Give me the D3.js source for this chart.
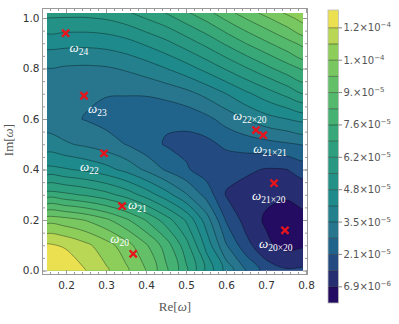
<!DOCTYPE html>
<meta charset="utf-8">
<script src="https://d3js.org/d3.v7.min.js"></script>
<style>
  body { margin: 0; background: #fff; }
  text { font-family: "DejaVu Sans", sans-serif; }
</style>
<div id="my_dataviz"></div>
<script>
var reSamples = [0.15, 0.20, 0.25, 0.30, 0.35, 0.40, 0.45, 0.50, 0.55, 0.60, 0.65, 0.70, 0.75, 0.80];
var imSamples = [0.0, 0.1, 0.2, 0.3, 0.4, 0.5, 0.6, 0.7, 0.8, 0.9, 1.0, 1.1];

// values in units of 1e-5, one row per Im sample (bottom row first)
var field = [
  [12.5, 12.15, 11.65, 11.07, 10.41, 9.59, 8.36, 7.02, 5.35, 3.88, 2.74, 1.75, 1.45, 1.5],
  [11.75, 11.55, 11.12, 10.57, 9.9, 9.0, 7.9, 6.45, 4.6, 2.8, 1.6, 0.85, 0.45, 0.55],
  [9.98, 9.85, 9.55, 9.05, 8.35, 7.5, 6.5, 5.4, 3.8, 2.0, 1.1, 0.58, 0.25, 0.5],
  [7.14, 7.0, 6.75, 6.4, 5.9, 5.2, 4.4, 3.5, 2.5, 1.33, 1.05, 0.85, 0.8, 0.95],
  [4.97, 4.85, 4.65, 4.35, 3.9, 3.3, 2.65, 2.15, 1.7, 1.55, 1.5, 1.32, 1.35, 1.65],
  [3.69, 3.5, 3.3, 3.05, 2.72, 2.3, 2.0, 1.85, 1.85, 2.2, 2.35, 2.5, 2.65, 2.8],
  [3.1, 2.9, 2.7, 2.5, 2.32, 2.2, 2.15, 2.25, 2.55, 3.0, 3.45, 3.85, 4.1, 4.3],
  [3.05, 2.95, 2.85, 2.78, 2.78, 2.8, 2.95, 3.2, 3.6, 4.1, 4.65, 5.15, 5.65, 6.15],
  [3.38, 3.33, 3.3, 3.35, 3.5, 3.75, 4.1, 4.5, 5.0, 5.55, 6.1, 6.65, 7.2, 7.7],
  [4.34, 4.3, 4.28, 4.35, 4.55, 4.9, 5.3, 5.8, 6.35, 6.95, 7.55, 8.1, 8.65, 9.15],
  [5.48, 5.45, 5.45, 5.55, 5.8, 6.2, 6.6, 7.15, 7.7, 8.35, 8.95, 9.5, 10.05, 10.6],
  [6.8, 6.75, 6.75, 6.85, 7.1, 7.5, 7.95, 8.5, 9.1, 9.75, 10.4, 11.0, 11.55, 12.1]
];

// contour levels (1e-5) and legend range
var levels = [0.685, 1.37, 2.055, 2.74, 3.425, 4.11, 4.795, 5.48, 6.165, 6.85, 7.535, 8.22, 8.905, 9.59, 10.275, 10.96, 11.645];
var legendRange = [0, 12.4];
var legendAt = [11.645, 10.275, 8.905, 7.535, 6.165, 4.795, 3.425, 2.055, 0.685];
var legendMant = ["1.2", "1.", "9.", "7.6", "6.2", "4.8", "3.5", "2.1", "6.9"];
var legendExp = ["-4", "-4", "-5", "-5", "-5", "-5", "-5", "-5", "-6"];

// marked modes
var modeSub = ["24", "23", "22", "21", "20", "22×20", "21×21", "21×20", "20×20"];
var modeRe = [0.199, 0.245, 0.295, 0.34, 0.368, 0.675, 0.693, 0.72, 0.7475];
var modeIm = [0.94, 0.692, 0.464, 0.255, 0.066, 0.556, 0.536, 0.346, 0.159];

var xTicks = [0.2, 0.3, 0.4, 0.5, 0.6, 0.7, 0.8];
var yTicks = [0.0, 0.2, 0.4, 0.6, 0.8, 1.0];

// ---- layout
var width = 399, height = 324;
var plotRe = [0.1525, 0.7925], plotIm = [0, 1.02];
var frame = {left: 42.5, right: 307.5, top: 8.5, bottom: 274.5};
var labelShift = [[4, 19], [4, 17], [-24, 18], [6, 3], [-23, -11], [-23, -10], [-10, 18], [-22, 17], [-26, 18]];
// colour ramp picked from the legend bar
var rampAt = [0.34, 1.03, 1.71, 2.4, 3.08, 4.45, 6.5, 7.9, 9.25, 10.6, 11.3, 12.02];
var rampColor = ["#230c62", "#262d70", "#234b82", "#20648c", "#28758e", "#1f8a8b",
                 "#2e9f7e", "#45b172", "#63c068", "#8ccd5a", "#b9d755", "#ebe150"];

var x = d3.scaleLinear().domain([0.2, 0.8]).range([66, 306]);
var y = d3.scaleLinear().domain([0, 1]).range([270.5, 18]);
var yBar = d3.scaleLinear().domain(legendRange).range([303, 10]);
var colorOf = d3.scaleLinear().domain(rampAt).range(rampColor)
  .interpolate(d3.interpolateRgb).clamp(true);

var svg = d3.select("#my_dataviz")
  .append("svg")
    .attr("width", width)
    .attr("height", height);

// band colours (middle of each band)
var bounds = [legendRange[0]].concat(levels).concat([legendRange[1]]);
function bandColor(i) {
  return colorOf((bounds[i] + bounds[i + 1]) / 2);
}

// contours on the sampled grid
var nx = reSamples.length, ny = imSamples.length;
var values = [];
field.forEach(function(row) { row.forEach(function(v) { values.push(v); }); });
var bands = d3.contours().size([nx, ny]).thresholds(levels)(values);

var dRe = reSamples[1] - reSamples[0], dIm = imSamples[1] - imSamples[0];
var ringLine = d3.line().curve(d3.curveCatmullRomClosed.alpha(0.5));
function toPath(mp) {
  var s = "";
  mp.coordinates.forEach(function(poly) {
    poly.forEach(function(ring) {
      var pts = ring.slice(0, -1).map(function(p) {
        return [x(reSamples[0] + (p[0] - 0.5) * dRe), y(imSamples[0] + (p[1] - 0.5) * dIm)];
      });
      s += ringLine(pts);
    });
  });
  return s;
}

svg.append("clipPath").attr("id", "plotclip")
  .append("rect")
    .attr("x", x(plotRe[0]))
    .attr("y", y(plotIm[1]))
    .attr("width", x(plotRe[1]) - x(plotRe[0]))
    .attr("height", y(plotIm[0]) - y(plotIm[1]));

var plot = svg.append("g").attr("clip-path", "url(#plotclip)");

plot.append("rect")
  .attr("x", x(plotRe[0])).attr("y", y(plotIm[1]))
  .attr("width", x(plotRe[1]) - x(plotRe[0]))
  .attr("height", y(plotIm[0]) - y(plotIm[1]))
  .attr("fill", bandColor(0));

plot.selectAll("path.band")
  .data(bands)
  .enter().append("path")
    .attr("class", "band")
    .attr("d", toPath)
    .attr("fill-rule", "evenodd")
    .attr("fill", function(d, i) { return bandColor(i + 1); });

plot.selectAll("path.iso")
  .data(bands)
  .enter().append("path")
    .attr("class", "iso")
    .attr("d", toPath)
    .attr("fill", "none")
    .attr("stroke", "#000")
    .attr("stroke-opacity", 0.5)
    .attr("stroke-width", 0.7);

// frame with inward ticks on all four sides
var tickColor = "#9a9a9a";
svg.append("rect")
  .attr("x", frame.left).attr("y", frame.top)
  .attr("width", frame.right - frame.left)
  .attr("height", frame.bottom - frame.top)
  .attr("fill", "none")
  .attr("stroke", tickColor)
  .attr("stroke-width", 1);

var xMinor = d3.range(8, 41).map(function(i) { return i / 50; });
var yMinor = d3.range(0, 21).map(function(i) { return i / 20; });

function styleAxis(g) {
  g.select(".domain").remove();
  g.selectAll(".tick line").attr("stroke", tickColor);
  g.selectAll(".tick text").attr("fill", "#333").style("font-size", "10.5px");
}

svg.append("g").attr("transform", "translate(0," + frame.bottom + ")")
  .call(d3.axisBottom(x).tickValues(xMinor).tickSize(-2.5).tickFormat(""))
  .call(styleAxis);
svg.append("g").attr("transform", "translate(0," + frame.bottom + ")")
  .call(d3.axisBottom(x).tickValues(xTicks).tickSize(-4.5).tickPadding(7).tickFormat(d3.format(".1f")))
  .call(styleAxis);
svg.append("g").attr("transform", "translate(0," + frame.top + ")")
  .call(d3.axisTop(x).tickValues(xMinor).tickSize(-2.5).tickFormat(""))
  .call(styleAxis);
svg.append("g").attr("transform", "translate(0," + frame.top + ")")
  .call(d3.axisTop(x).tickValues(xTicks).tickSize(-4.5).tickFormat(""))
  .call(styleAxis);

svg.append("g").attr("transform", "translate(" + frame.left + ",0)")
  .call(d3.axisLeft(y).tickValues(yMinor).tickSize(-2.5).tickFormat(""))
  .call(styleAxis);
svg.append("g").attr("transform", "translate(" + frame.left + ",0)")
  .call(d3.axisLeft(y).tickValues(yTicks).tickSize(-4.5).tickPadding(3).tickFormat(d3.format(".1f")))
  .call(styleAxis);
svg.append("g").attr("transform", "translate(" + frame.right + ",0)")
  .call(d3.axisRight(y).tickValues(yMinor).tickSize(-2.5).tickFormat(""))
  .call(styleAxis);
svg.append("g").attr("transform", "translate(" + frame.right + ",0)")
  .call(d3.axisRight(y).tickValues(yTicks).tickSize(-4.5).tickFormat(""))
  .call(styleAxis);

// axis titles
var re = svg.append("text")
  .attr("x", 175).attr("y", 311)
  .attr("text-anchor", "middle")
  .attr("fill", "#555")
  .style("font-family", "'Liberation Serif', serif")
  .style("font-size", "13px");
re.append("tspan").text("Re[");
re.append("tspan").style("font-style", "italic").text("ω");
re.append("tspan").text("]");

var im = svg.append("text")
  .attr("transform", "translate(13,140) rotate(-90)")
  .attr("text-anchor", "middle")
  .attr("fill", "#555")
  .style("font-family", "'Liberation Serif', serif")
  .style("font-size", "13px");
im.append("tspan").text("Im[");
im.append("tspan").style("font-style", "italic").text("ω");
im.append("tspan").text("]");

// marked modes
var modes = svg.append("g");
modeSub.forEach(function(s, i) {
  var px = x(modeRe[i]), py = y(modeIm[i]);
  modes.append("path")
    .attr("d", "M-3.6,-3.6L3.6,3.6M-3.6,3.6L3.6,-3.6")
    .attr("transform", "translate(" + px + "," + py + ")")
    .attr("stroke", "#e8141c")
    .attr("stroke-width", 2.4);
  var t = modes.append("text")
    .attr("x", px + labelShift[i][0])
    .attr("y", py + labelShift[i][1])
    .attr("fill", "#fff")
    .style("font-family", "'Liberation Serif', serif")
    .style("font-size", "13px");
  t.append("tspan").style("font-style", "italic").text("ω");
  t.append("tspan").attr("dy", 3).style("font-size", "9.5px").text(s);
});

// legend bar
var bar = svg.append("g");
var barX = 328, barW = 10.5;
bounds.slice(0, -1).forEach(function(b, i) {
  bar.append("rect")
    .attr("x", barX).attr("y", yBar(bounds[i + 1]))
    .attr("width", barW).attr("height", yBar(bounds[i]) - yBar(bounds[i + 1]))
    .attr("fill", bandColor(i));
});
levels.forEach(function(v) {
  bar.append("line")
    .attr("x1", barX).attr("x2", barX + barW)
    .attr("y1", yBar(v)).attr("y2", yBar(v))
    .attr("stroke", "#000").attr("stroke-opacity", 0.5).attr("stroke-width", 0.8);
});
bar.append("rect")
  .attr("x", barX).attr("y", yBar(legendRange[1]))
  .attr("width", barW).attr("height", yBar(legendRange[0]) - yBar(legendRange[1]))
  .attr("fill", "none").attr("stroke", "#bbb").attr("stroke-width", 0.8);

legendAt.forEach(function(v, i) {
  bar.append("line")
    .attr("x1", barX + barW).attr("x2", barX + barW + 3.5)
    .attr("y1", yBar(v)).attr("y2", yBar(v))
    .attr("stroke", "#666").attr("stroke-width", 0.8);
  var t = bar.append("text")
    .attr("x", barX + barW + 5)
    .attr("y", yBar(v) + 3.5)
    .attr("fill", "#555")
    .style("font-size", "10px");
  t.append("tspan").text(legendMant[i] + "×10");
  t.append("tspan").attr("dy", -4).style("font-size", "7px").text(legendExp[i].replace("-", "−"));
});
</script>
